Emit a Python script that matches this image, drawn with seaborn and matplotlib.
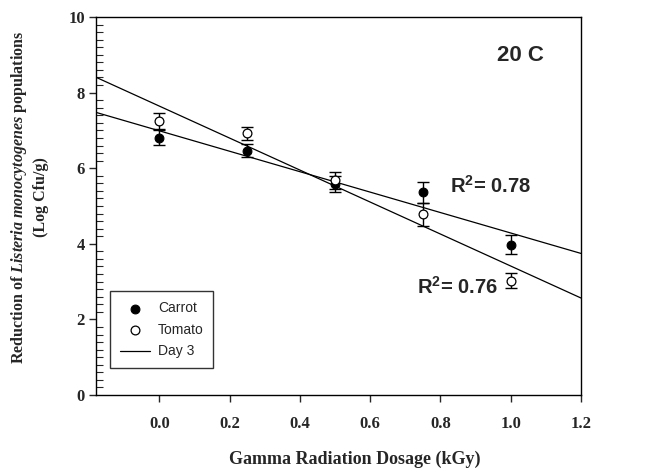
import numpy as np
import pandas as pd
import matplotlib
matplotlib.use("Agg")
import matplotlib.pyplot as plt
from matplotlib.ticker import MultipleLocator
import seaborn as sns

# ---- data ----
dose = [0.0, 0.25, 0.5, 0.75, 1.0]
carrot = [6.81, 6.46, 5.58, 5.36, 3.98]
carrot_err = [0.20, 0.17, 0.22, 0.27, 0.25]
tomato = [7.24, 6.92, 5.68, 4.78, 3.02]
tomato_err = [0.21, 0.18, 0.22, 0.30, 0.20]
r2_carrot = "0.78"
r2_tomato = "0.76"
xticks = [0.0, 0.2, 0.4, 0.6, 0.8, 1.0, 1.2]
yticks = [0, 2, 4, 6, 8, 10]

df = pd.DataFrame({"dose": dose, "Carrot": carrot, "Tomato": tomato})

sns.set_style("ticks")
plt.rcParams["font.family"] = ["Liberation Serif", "DejaVu Serif"]
plt.rcParams["mathtext.fontset"] = "custom"
plt.rcParams["mathtext.it"] = "Liberation Serif:italic:bold"
plt.rcParams["mathtext.rm"] = "Liberation Serif:bold"
plt.rcParams["mathtext.bf"] = "Liberation Sans:bold"

fig = plt.figure(figsize=(6.56, 4.72), dpi=100)
ax = fig.add_axes([96 / 656, 1 - 395 / 472, 485 / 656, 378 / 472])
ax.set_xlim(-0.18, 1.2)
ax.set_ylim(0, 10)

# regression lines (extended to axis limits)
for col in ["Carrot", "Tomato"]:
    sns.regplot(data=df, x="dose", y=col, ax=ax, scatter=False, ci=None,
                truncate=False, color="black", line_kws={"lw": 0.9, "zorder": 2})

# error bars
ax.errorbar(dose, carrot, yerr=carrot_err, fmt="none", ecolor="black",
            elinewidth=1.0, capsize=4, capthick=1.0, zorder=3)
ax.errorbar(dose, tomato, yerr=tomato_err, fmt="none", ecolor="black",
            elinewidth=1.0, capsize=4, capthick=1.0, zorder=3)

# points
sns.scatterplot(data=df, x="dose", y="Carrot", ax=ax, marker="o", s=40,
                color="black", edgecolor="black", linewidth=0.8, zorder=4,
                label="Carrot")
sns.scatterplot(data=df, x="dose", y="Tomato", ax=ax, marker="o", s=40,
                color="white", edgecolor="black", linewidth=0.9, zorder=4,
                label="Tomato")
ax.plot([], [], color="black", lw=0.9, label="Day 3")

ax.set_xlim(-0.18, 1.2)
ax.set_ylim(0, 10)

ax.set_xticks(xticks)
ax.set_xticklabels([f"{t:.1f}" for t in xticks])
ax.set_yticks(yticks)
ax.yaxis.set_minor_locator(MultipleLocator(0.2))
for lab in ax.get_xticklabels() + ax.get_yticklabels():
    lab.set_fontweight("bold")
    lab.set_fontsize(12)
ax.tick_params(axis="x", which="major", direction="out", length=5, width=1,
               pad=10)
ax.tick_params(axis="y", which="major", direction="out", length=5, width=1,
               pad=3)
ax.tick_params(axis="y", which="minor", direction="in", length=5, width=0.8)
ax.tick_params(top=False, right=False)
for sp in ax.spines.values():
    sp.set_visible(True)
    sp.set_linewidth(1.0)
    sp.set_color("black")

ax.set_xlabel("Gamma Radiation Dosage (kGy)", fontsize=13, fontweight="bold")
ax.xaxis.set_label_coords(0.534, -0.148)
ax.set_ylabel("Reduction of $\\mathit{Listeria\\ monocytogenes}$ populations\n(Log Cfu/g)",
              fontsize=11.5, fontweight="bold", linespacing=1.3)
ax.yaxis.set_label_coords(-0.097, 0.524)

sans = ["Liberation Sans", "DejaVu Sans"]
ax.text(0.962, 8.84, "20 C", family=sans, fontsize=16, fontweight="bold",
        ha="left", va="baseline")
ax.text(0.828, 5.34, "R$^{\\mathbf{2}}$= " + r2_carrot, family=sans, fontsize=14.5,
        fontweight="bold", ha="left", va="baseline")
ax.text(0.734, 2.67, "R$^{\\mathbf{2}}$= " + r2_tomato, family=sans, fontsize=14.5,
        fontweight="bold", ha="left", va="baseline")

leg = ax.legend(loc="lower left", bbox_to_anchor=(0.029, 0.071),
                borderaxespad=0, frameon=True, fancybox=False, shadow=False,
                prop={"family": sans, "size": 10}, handlelength=2.2,
                handletextpad=0.55, labelspacing=0.55, borderpad=0.7)
leg.get_frame().set_edgecolor("black")
leg.get_frame().set_linewidth(1.0)

fig.savefig("out.png", dpi=100)
